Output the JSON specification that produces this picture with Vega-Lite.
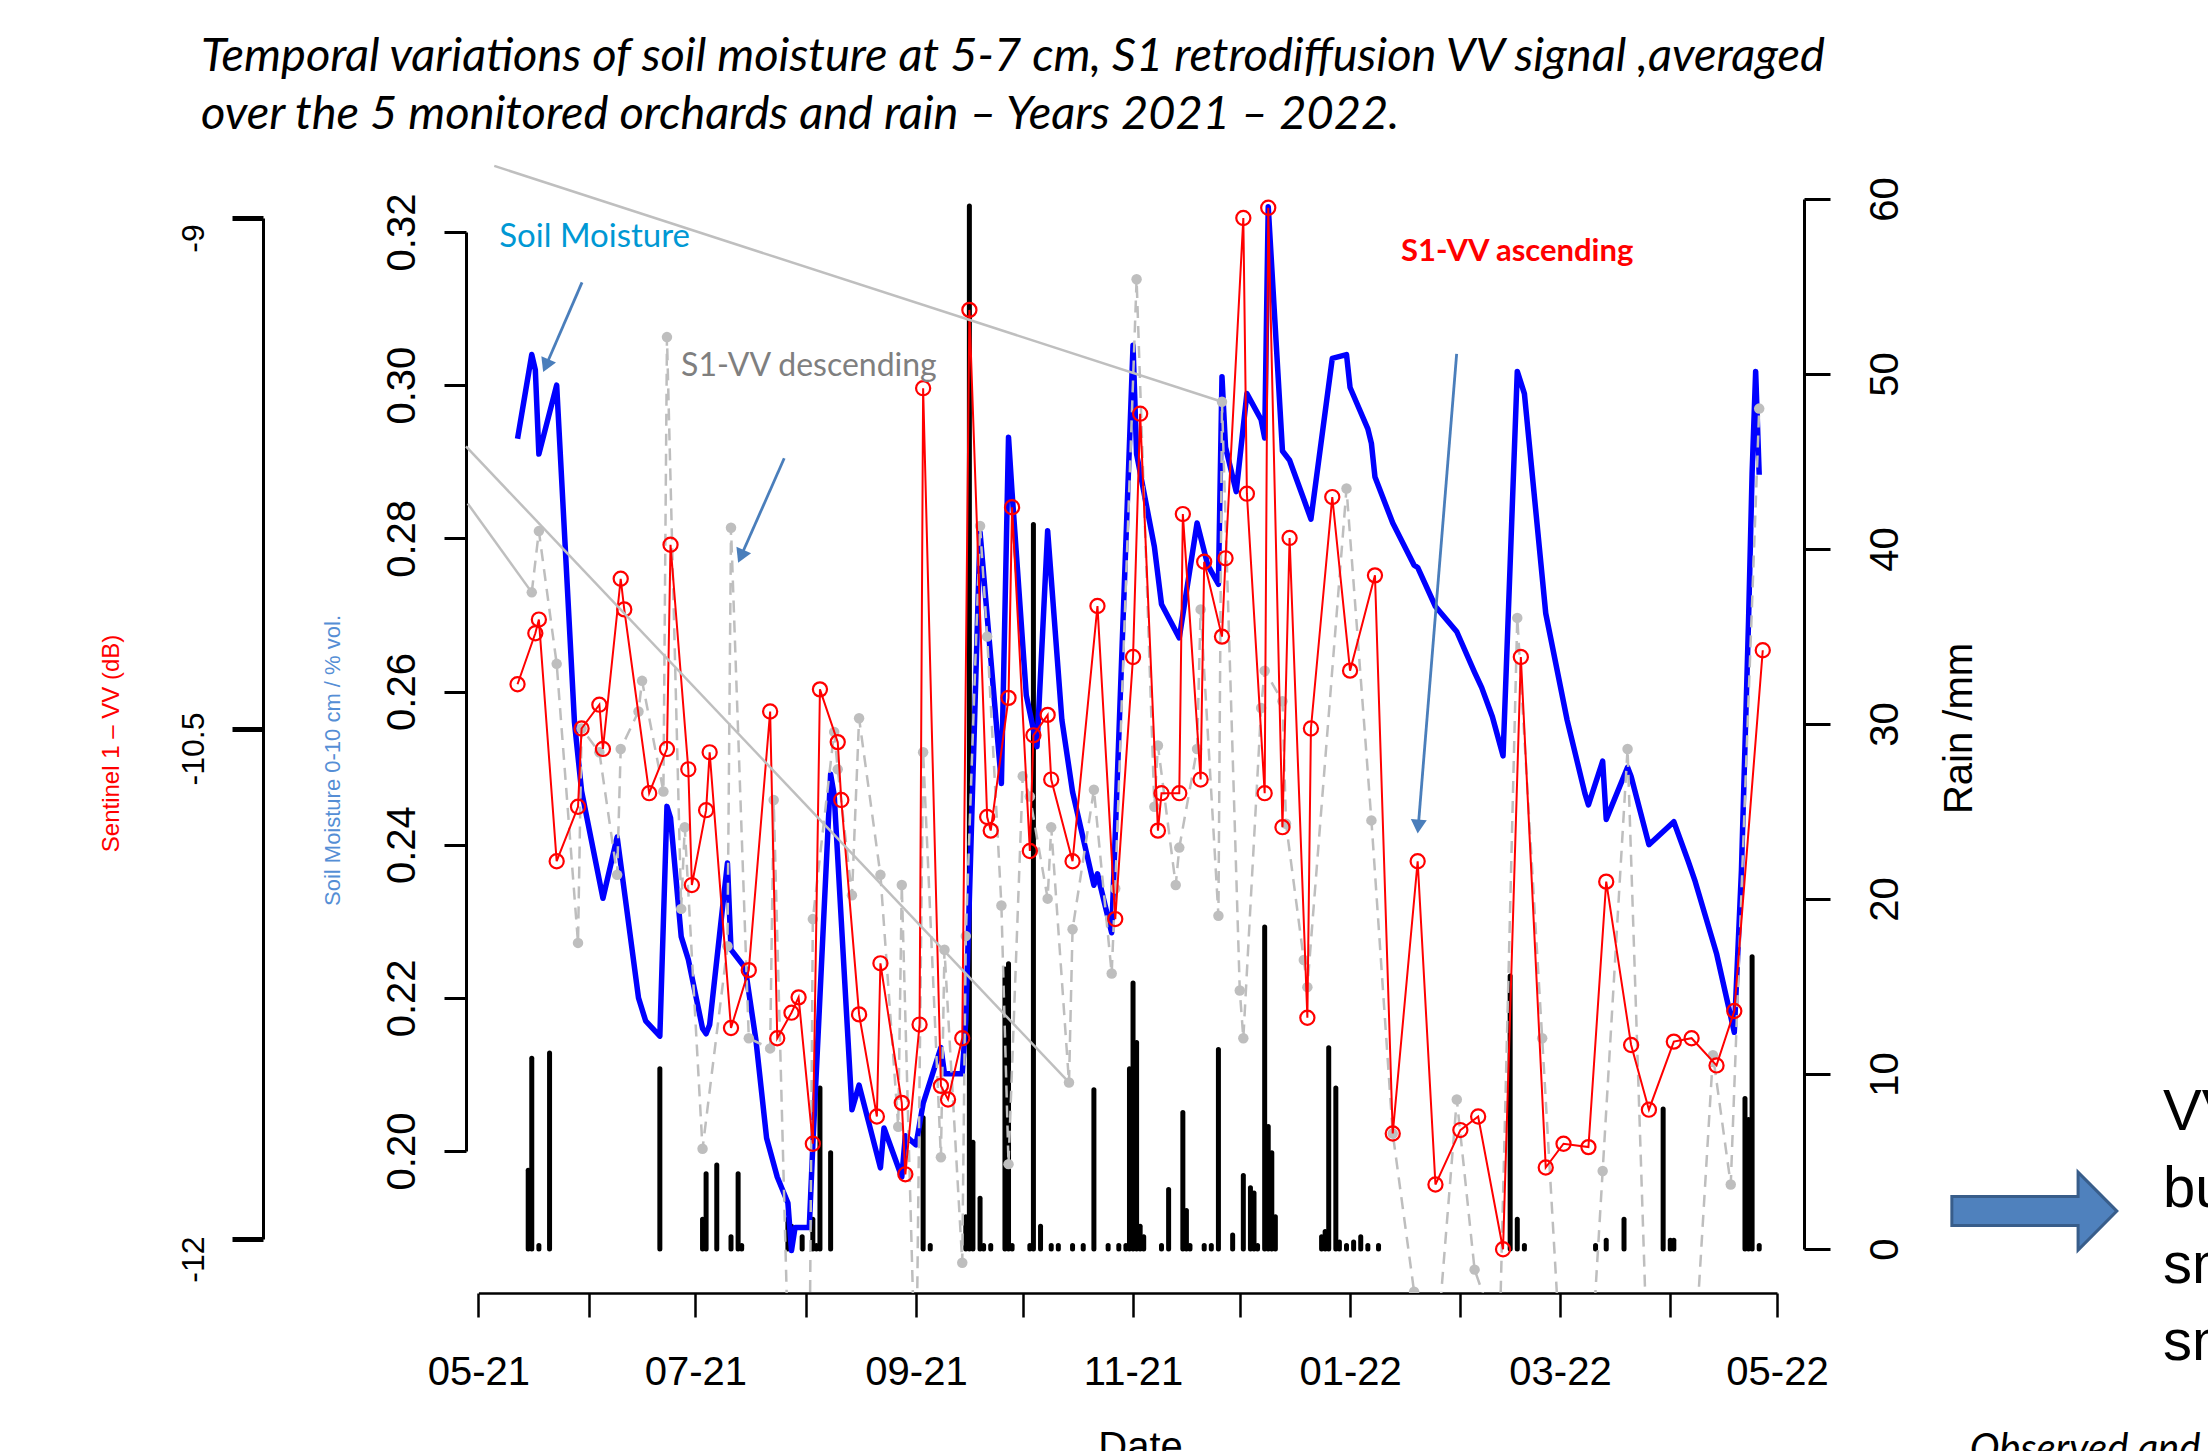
{
  "$schema": "https://vega.github.io/schema/vega-lite/v6.json",
  "autosize": "none",
  "width": 1338,
  "height": 1153,
  "padding": {"left": 466, "top": 140, "right": 404, "bottom": 158},
  "background": "white",
  "title": {
    "text": ["Temporal variations of soil moisture at 5-7 cm, S1 retrodiffusion VV signal ,averaged", "over  the 5 monitored orchards and rain \u2013 Years 2021 \u2013 2022."],
    "anchor": "start", "frame": "group", "font": "Lato", "fontStyle": "italic", "fontWeight": "normal",
    "fontSize": 47, "lineHeight": 58.5, "color": "black", "dx": -265, "dy": 36, "baseline": "alphabetic", "offset": 0
  },
  "datasets": {
    "rain": [
      {"date":"2021-05-15","rain":4.5},{"date":"2021-05-16","rain":10.9},{"date":"2021-05-18","rain":0.2},{"date":"2021-05-21","rain":11.2},
      {"date":"2021-06-21","rain":10.3},{"date":"2021-07-03","rain":1.7},{"date":"2021-07-04","rain":4.3},{"date":"2021-07-07","rain":4.8},
      {"date":"2021-07-11","rain":0.7},{"date":"2021-07-13","rain":4.3},{"date":"2021-07-14","rain":0.2},{"date":"2021-07-27","rain":1.7},
      {"date":"2021-07-28","rain":1.3},{"date":"2021-07-31","rain":0.7},{"date":"2021-08-03","rain":1.7},{"date":"2021-08-04","rain":0.2},
      {"date":"2021-08-05","rain":9.2},{"date":"2021-08-08","rain":5.5},{"date":"2021-09-03","rain":7.5},{"date":"2021-09-05","rain":0.2},
      {"date":"2021-09-15","rain":1.85},{"date":"2021-09-16","rain":59.6},{"date":"2021-09-17","rain":6.1},{"date":"2021-09-19","rain":2.9},
      {"date":"2021-09-20","rain":0.2},{"date":"2021-09-22","rain":0.2},{"date":"2021-09-26","rain":16.0},{"date":"2021-09-27","rain":16.3},
      {"date":"2021-09-28","rain":0.2},{"date":"2021-10-03","rain":0.2},{"date":"2021-10-04","rain":41.4},{"date":"2021-10-06","rain":1.3},
      {"date":"2021-10-09","rain":0.2},{"date":"2021-10-11","rain":0.2},{"date":"2021-10-15","rain":0.2},{"date":"2021-10-18","rain":0.2},
      {"date":"2021-10-21","rain":9.1},{"date":"2021-10-25","rain":0.2},{"date":"2021-10-28","rain":0.2},{"date":"2021-10-30","rain":0.2},
      {"date":"2021-10-31","rain":10.3},{"date":"2021-11-01","rain":15.2},{"date":"2021-11-02","rain":11.8},{"date":"2021-11-03","rain":1.3},
      {"date":"2021-11-04","rain":0.7},{"date":"2021-11-09","rain":0.2},{"date":"2021-11-11","rain":3.4},{"date":"2021-11-15","rain":7.8},
      {"date":"2021-11-16","rain":2.2},{"date":"2021-11-17","rain":0.2},{"date":"2021-11-21","rain":0.2},{"date":"2021-11-23","rain":0.2},
      {"date":"2021-11-25","rain":11.4},{"date":"2021-11-29","rain":0.8},{"date":"2021-12-02","rain":4.2},{"date":"2021-12-04","rain":3.5},
      {"date":"2021-12-05","rain":3.2},{"date":"2021-12-06","rain":0.2},{"date":"2021-12-08","rain":18.4},{"date":"2021-12-09","rain":7.0},
      {"date":"2021-12-10","rain":5.5},{"date":"2021-12-11","rain":1.85},{"date":"2021-12-24","rain":0.7},{"date":"2021-12-25","rain":1.0},
      {"date":"2021-12-26","rain":11.5},{"date":"2021-12-28","rain":9.2},{"date":"2021-12-29","rain":0.4},{"date":"2021-12-31","rain":0.2},
      {"date":"2022-01-02","rain":0.4},{"date":"2022-01-04","rain":0.7},{"date":"2022-01-06","rain":0.2},{"date":"2022-01-09","rain":0.2},
      {"date":"2022-02-15","rain":15.6},{"date":"2022-02-17","rain":1.7},{"date":"2022-02-19","rain":0.2},{"date":"2022-03-11","rain":0.2},
      {"date":"2022-03-14","rain":0.5},{"date":"2022-03-19","rain":1.7},{"date":"2022-03-30","rain":8.0},{"date":"2022-04-01","rain":0.5},
      {"date":"2022-04-02","rain":0.5},{"date":"2022-04-22","rain":8.6},{"date":"2022-04-23","rain":7.4},{"date":"2022-04-24","rain":16.7},
      {"date":"2022-04-26","rain":0.2}
    ],
    "sm": [
      {"date":"2021-05-12","sm":0.293},{"date":"2021-05-16","sm":0.304},{"date":"2021-05-17","sm":0.302},{"date":"2021-05-18","sm":0.291},
      {"date":"2021-05-23","sm":0.300},{"date":"2021-05-28","sm":0.256},{"date":"2021-05-30","sm":0.247},{"date":"2021-06-05","sm":0.233},
      {"date":"2021-06-09","sm":0.241},{"date":"2021-06-15","sm":0.220},{"date":"2021-06-17","sm":0.217},{"date":"2021-06-21","sm":0.215},
      {"date":"2021-06-23","sm":0.245},{"date":"2021-06-24","sm":0.2435},{"date":"2021-06-27","sm":0.228},{"date":"2021-06-29","sm":0.225},
      {"date":"2021-07-03","sm":0.216},{"date":"2021-07-04","sm":0.2153},{"date":"2021-07-05","sm":0.2165},{"date":"2021-07-10","sm":0.2376},
      {"date":"2021-07-11","sm":0.2263},{"date":"2021-07-15","sm":0.2239},{"date":"2021-07-18","sm":0.2145},{"date":"2021-07-21","sm":0.2017},
      {"date":"2021-07-24","sm":0.1966},{"date":"2021-07-27","sm":0.1932},{"date":"2021-07-28","sm":0.187},{"date":"2021-07-29","sm":0.190},
      {"date":"2021-08-02","sm":0.190},{"date":"2021-08-03","sm":0.2008},{"date":"2021-08-08","sm":0.2492},{"date":"2021-08-09","sm":0.2465},
      {"date":"2021-08-14","sm":0.2054},{"date":"2021-08-16","sm":0.2086},{"date":"2021-08-22","sm":0.1978},{"date":"2021-08-23","sm":0.203},
      {"date":"2021-08-28","sm":0.1966},{"date":"2021-08-29","sm":0.202},{"date":"2021-09-01","sm":0.2008},{"date":"2021-09-03","sm":0.2062},
      {"date":"2021-09-08","sm":0.2135},{"date":"2021-09-09","sm":0.2101},{"date":"2021-09-14","sm":0.2101},{"date":"2021-09-15","sm":0.217},
      {"date":"2021-09-19","sm":0.2808},{"date":"2021-09-25","sm":0.248},{"date":"2021-09-27","sm":0.2932},{"date":"2021-09-28","sm":0.286},
      {"date":"2021-10-02","sm":0.2595},{"date":"2021-10-05","sm":0.2528},{"date":"2021-10-08","sm":0.281},{"date":"2021-10-12","sm":0.2563},
      {"date":"2021-10-15","sm":0.2469},{"date":"2021-10-21","sm":0.2347},{"date":"2021-10-22","sm":0.2362},{"date":"2021-10-26","sm":0.2285},
      {"date":"2021-11-01","sm":0.3052},{"date":"2021-11-02","sm":0.291},{"date":"2021-11-07","sm":0.2789},{"date":"2021-11-09","sm":0.2714},
      {"date":"2021-11-14","sm":0.267},{"date":"2021-11-19","sm":0.282},{"date":"2021-11-22","sm":0.2765},{"date":"2021-11-25","sm":0.274},
      {"date":"2021-11-26","sm":0.3011},{"date":"2021-11-27","sm":0.2919},{"date":"2021-11-30","sm":0.2861},{"date":"2021-12-03","sm":0.2989},
      {"date":"2021-12-07","sm":0.2955},{"date":"2021-12-08","sm":0.2931},{"date":"2021-12-09","sm":0.3233},{"date":"2021-12-13","sm":0.2914},
      {"date":"2021-12-15","sm":0.2902},{"date":"2021-12-19","sm":0.2851},{"date":"2021-12-21","sm":0.2825},{"date":"2021-12-27","sm":0.3035},
      {"date":"2021-12-31","sm":0.304},{"date":"2022-01-01","sm":0.2997},{"date":"2022-01-06","sm":0.2943},{"date":"2022-01-07","sm":0.2924},
      {"date":"2022-01-08","sm":0.288},{"date":"2022-01-13","sm":0.282},{"date":"2022-01-19","sm":0.2765},{"date":"2022-01-20","sm":0.2762},
      {"date":"2022-01-25","sm":0.2711},{"date":"2022-01-31","sm":0.2678},{"date":"2022-02-05","sm":0.2625},{"date":"2022-02-07","sm":0.2605},
      {"date":"2022-02-10","sm":0.2567},{"date":"2022-02-13","sm":0.2516},{"date":"2022-02-17","sm":0.3018},{"date":"2022-02-19","sm":0.2989},
      {"date":"2022-02-25","sm":0.2702},{"date":"2022-03-03","sm":0.2563},{"date":"2022-03-08","sm":0.2467},{"date":"2022-03-09","sm":0.2452},
      {"date":"2022-03-13","sm":0.2509},{"date":"2022-03-14","sm":0.2433},{"date":"2022-03-20","sm":0.2501},{"date":"2022-03-21","sm":0.2489},
      {"date":"2022-03-26","sm":0.240},{"date":"2022-04-02","sm":0.243},{"date":"2022-04-06","sm":0.2379},{"date":"2022-04-08","sm":0.2352},
      {"date":"2022-04-14","sm":0.2258},{"date":"2022-04-19","sm":0.2155},{"date":"2022-04-21","sm":0.2366},{"date":"2022-04-23","sm":0.2692},
      {"date":"2022-04-24","sm":0.2885},{"date":"2022-04-25","sm":0.3018},{"date":"2022-04-26","sm":0.2883}
    ],
    "asc": [
      {"date":"2021-05-12","db":-10.37},{"date":"2021-05-17","db":-10.22},{"date":"2021-05-18","db":-10.18},{"date":"2021-05-23","db":-10.89},
      {"date":"2021-05-29","db":-10.73},{"date":"2021-05-30","db":-10.50},{"date":"2021-06-04","db":-10.43},{"date":"2021-06-05","db":-10.56},
      {"date":"2021-06-10","db":-10.06},{"date":"2021-06-11","db":-10.15},{"date":"2021-06-18","db":-10.69},{"date":"2021-06-23","db":-10.56},
      {"date":"2021-06-24","db":-9.96},{"date":"2021-06-29","db":-10.62},{"date":"2021-06-30","db":-10.96},{"date":"2021-07-04","db":-10.74},
      {"date":"2021-07-05","db":-10.57},{"date":"2021-07-11","db":-11.38},{"date":"2021-07-16","db":-11.21},{"date":"2021-07-22","db":-10.45},
      {"date":"2021-07-24","db":-11.41},{"date":"2021-07-28","db":-11.335},{"date":"2021-07-30","db":-11.29},{"date":"2021-08-03","db":-11.72},
      {"date":"2021-08-05","db":-10.385},{"date":"2021-08-10","db":-10.54},{"date":"2021-08-11","db":-10.71},{"date":"2021-08-16","db":-11.34},
      {"date":"2021-08-21","db":-11.64},{"date":"2021-08-22","db":-11.19},{"date":"2021-08-28","db":-11.60},{"date":"2021-08-29","db":-11.81},
      {"date":"2021-09-02","db":-11.37},{"date":"2021-09-03","db":-9.50},{"date":"2021-09-08","db":-11.55},{"date":"2021-09-10","db":-11.59},
      {"date":"2021-09-14","db":-11.41},{"date":"2021-09-16","db":-9.27},{"date":"2021-09-21","db":-10.76},{"date":"2021-09-22","db":-10.80},
      {"date":"2021-09-27","db":-10.41},{"date":"2021-09-28","db":-9.85},{"date":"2021-10-03","db":-10.86},{"date":"2021-10-04","db":-10.52},
      {"date":"2021-10-08","db":-10.46},{"date":"2021-10-09","db":-10.65},{"date":"2021-10-15","db":-10.89},{"date":"2021-10-22","db":-10.14},
      {"date":"2021-10-27","db":-11.06},{"date":"2021-11-01","db":-10.29},{"date":"2021-11-03","db":-9.575},{"date":"2021-11-08","db":-10.80},
      {"date":"2021-11-09","db":-10.69},{"date":"2021-11-14","db":-10.69},{"date":"2021-11-15","db":-9.87},{"date":"2021-11-20","db":-10.65},
      {"date":"2021-11-21","db":-10.01},{"date":"2021-11-26","db":-10.23},{"date":"2021-11-27","db":-10.00},{"date":"2021-12-02","db":-9.00},
      {"date":"2021-12-03","db":-9.81},{"date":"2021-12-08","db":-10.69},{"date":"2021-12-09","db":-8.97},{"date":"2021-12-13","db":-10.79},
      {"date":"2021-12-15","db":-9.94},{"date":"2021-12-20","db":-11.35},{"date":"2021-12-21","db":-10.50},{"date":"2021-12-27","db":-9.82},
      {"date":"2022-01-01","db":-10.33},{"date":"2022-01-08","db":-10.05},{"date":"2022-01-13","db":-11.69},{"date":"2022-01-20","db":-10.89},
      {"date":"2022-01-25","db":-11.84},{"date":"2022-02-01","db":-11.68},{"date":"2022-02-06","db":-11.64},{"date":"2022-02-13","db":-12.03},
      {"date":"2022-02-18","db":-10.29},{"date":"2022-02-25","db":-11.79},{"date":"2022-03-02","db":-11.72},{"date":"2022-03-09","db":-11.73},
      {"date":"2022-03-14","db":-10.95},{"date":"2022-03-21","db":-11.43},{"date":"2022-03-26","db":-11.62},{"date":"2022-04-02","db":-11.42},
      {"date":"2022-04-07","db":-11.41},{"date":"2022-04-14","db":-11.49},{"date":"2022-04-19","db":-11.33},{"date":"2022-04-27","db":-10.27}
    ],
    "desc": [
      {"date":"2021-05-16","db":-10.10},{"date":"2021-05-18","db":-9.92},{"date":"2021-05-23","db":-10.31},{"date":"2021-05-29","db":-11.13},
      {"date":"2021-05-30","db":-10.50},{"date":"2021-06-04","db":-10.57},{"date":"2021-06-09","db":-10.93},{"date":"2021-06-10","db":-10.56},
      {"date":"2021-06-15","db":-10.45},{"date":"2021-06-16","db":-10.36},{"date":"2021-06-22","db":-10.685},{"date":"2021-06-23","db":-9.35},
      {"date":"2021-06-27","db":-11.03},{"date":"2021-06-28","db":-10.79},{"date":"2021-07-03","db":-11.735},{"date":"2021-07-10","db":-11.14},
      {"date":"2021-07-11","db":-9.91},{"date":"2021-07-16","db":-11.41},{"date":"2021-07-22","db":-11.44},{"date":"2021-07-23","db":-10.71},
      {"date":"2021-07-27","db":-12.3},{"date":"2021-08-02","db":-12.5},{"date":"2021-08-03","db":-11.06},{"date":"2021-08-09","db":-10.51},
      {"date":"2021-08-10","db":-10.62},{"date":"2021-08-14","db":-10.99},{"date":"2021-08-16","db":-10.47},{"date":"2021-08-22","db":-10.93},
      {"date":"2021-08-27","db":-11.67},{"date":"2021-08-28","db":-10.96},{"date":"2021-09-01","db":-12.5},{"date":"2021-09-03","db":-10.57},
      {"date":"2021-09-08","db":-11.76},{"date":"2021-09-09","db":-11.15},{"date":"2021-09-14","db":-12.07},{"date":"2021-09-15","db":-11.11},
      {"date":"2021-09-19","db":-9.905},{"date":"2021-09-21","db":-10.23},{"date":"2021-09-25","db":-11.02},{"date":"2021-09-27","db":-11.78},
      {"date":"2021-10-01","db":-10.64},{"date":"2021-10-03","db":-10.70},{"date":"2021-10-08","db":-11.00},{"date":"2021-10-09","db":-10.79},
      {"date":"2021-10-14","db":-11.54},{"date":"2021-10-15","db":-11.09},{"date":"2021-10-21","db":-10.68},{"date":"2021-10-26","db":-11.22},
      {"date":"2021-10-27","db":-10.97},{"date":"2021-11-02","db":-9.18},{"date":"2021-11-07","db":-10.73},{"date":"2021-11-08","db":-10.55},
      {"date":"2021-11-13","db":-10.96},{"date":"2021-11-14","db":-10.85},{"date":"2021-11-19","db":-10.56},{"date":"2021-11-20","db":-10.15},
      {"date":"2021-11-25","db":-11.05},{"date":"2021-11-26","db":-9.54},{"date":"2021-12-01","db":-11.27},{"date":"2021-12-02","db":-11.41},
      {"date":"2021-12-07","db":-10.44},{"date":"2021-12-08","db":-10.33},{"date":"2021-12-13","db":-10.42},{"date":"2021-12-14","db":-10.78},
      {"date":"2021-12-19","db":-11.18},{"date":"2021-12-20","db":-11.26},{"date":"2021-12-31","db":-9.795},{"date":"2022-01-07","db":-10.77},
      {"date":"2022-01-13","db":-11.69},{"date":"2022-01-19","db":-12.155},{"date":"2022-01-24","db":-12.5},{"date":"2022-01-31","db":-11.59},
      {"date":"2022-02-05","db":-12.09},{"date":"2022-02-12","db":-12.3},{"date":"2022-02-17","db":-10.175},{"date":"2022-02-24","db":-11.41},
      {"date":"2022-03-02","db":-12.5},{"date":"2022-03-09","db":-12.5},{"date":"2022-03-13","db":-11.80},{"date":"2022-03-20","db":-10.56},
      {"date":"2022-03-26","db":-12.5},{"date":"2022-04-07","db":-12.5},{"date":"2022-04-13","db":-11.46},{"date":"2022-04-18","db":-11.84},
      {"date":"2022-04-26","db":-9.56}
    ],
    "connectors": [
      {"date":"2021-05-05T11:00:00Z","db":-8.847,"date2":"2021-11-26T00:00:00Z","db2":-9.54},
      {"date":"2021-04-27T12:00:00Z","db":-9.671,"date2":"2021-10-14T00:00:00Z","db2":-11.54},
      {"date":"2021-04-28T00:00:00Z","db":-9.839,"date2":"2021-05-16T00:00:00Z","db2":-10.10}
    ],
    "arrows": [
      {"date":"2021-05-30T03:00:00Z","db":-9.189,"date2":"2021-05-19T23:30:00Z","db2":-9.434},
      {"date":"2021-07-25T23:00:00Z","db":-9.706,"date2":"2021-07-13T19:00:00Z","db2":-9.994},
      {"date":"2022-01-30T23:00:00Z","db":-9.399,"date2":"2022-01-20T04:00:00Z","db2":-10.788}
    ],
    "notes": [
      {"date":"2021-05-06T21:00:00Z","db":-9.085,"text":"Soil Moisture","kind":"sm"},
      {"date":"2021-06-26T23:00:00Z","db":-9.463,"text":"S1-VV descending","kind":"desc"},
      {"date":"2022-01-15T07:00:00Z","db":-9.127,"text":"S1-VV ascending","kind":"asc"},
      {"date":"2022-08-17T12:00:00Z","db":-11.680,"text":"VV","kind":"side"},
      {"date":"2022-08-17T12:00:00Z","db":-11.906,"text":"bu","kind":"side"},
      {"date":"2022-08-17T12:00:00Z","db":-12.129,"text":"sm","kind":"side"},
      {"date":"2022-08-17T12:00:00Z","db":-12.356,"text":"sm","kind":"side"},
      {"date":"2022-06-24T05:00:00Z","db":-12.655,"text":"Observed and","kind":"obs"}
    ]
  },
  "encoding": {
    "x": {
      "field": "date", "type": "temporal",
      "scale": {"type": "utc", "domain": [{"year":2021,"month":5,"date":1,"utc":true},{"year":2022,"month":5,"date":1,"utc":true}], "range": [12.4, 1311], "nice": false},
      "axis": {
        "title": "Date",
        "values": [
          {"year":2021,"month":5,"date":1,"utc":true},{"year":2021,"month":6,"date":1,"utc":true},{"year":2021,"month":7,"date":1,"utc":true},
          {"year":2021,"month":8,"date":1,"utc":true},{"year":2021,"month":9,"date":1,"utc":true},{"year":2021,"month":10,"date":1,"utc":true},
          {"year":2021,"month":11,"date":1,"utc":true},{"year":2021,"month":12,"date":1,"utc":true},{"year":2022,"month":1,"date":1,"utc":true},
          {"year":2022,"month":2,"date":1,"utc":true},{"year":2022,"month":3,"date":1,"utc":true},{"year":2022,"month":4,"date":1,"utc":true},
          {"year":2022,"month":5,"date":1,"utc":true}
        ],
        "labelExpr": "utcmonth(datum.value) % 2 == 0 ? utcFormat(datum.value, '%m-%y') : ''",
        "tickSize": 24, "tickWidth": 2.5, "domainWidth": 2.5,
        "labelFontSize": 40, "labelFont": "Liberation Sans", "labelPadding": 35, "labelBaseline": "top", "labelAlign": "center",
        "labelFlush": false, "labelOverlap": false,
        "titleFontSize": 40, "titleFont": "Liberation Sans", "titleFontWeight": "normal",
        "titleBaseline": "alphabetic", "titleAlign": "center", "titleX": 674, "titleY": 166
      }
    }
  },
  "layer": [
    {
      "data": {"name": "rain"},
      "mark": {"type": "rule", "color": "black", "strokeWidth": 5, "strokeCap": "round"},
      "encoding": {
        "y": {"field": "rain", "type": "quantitative",
          "scale": {"domain": [0, 60], "range": [1109, 59], "nice": false, "zero": false},
          "axis": {"orient": "right", "values": [0,10,20,30,40,50,60], "tickSize": 26, "tickWidth": 3, "domainWidth": 3,
            "labelFontSize": 40, "labelFont": "Liberation Sans", "labelAngle": 270, "labelAlign": "center", "labelBaseline": "alphabetic",
            "labelPadding": 67, "labelFlush": false, "labelOverlap": false,
            "title": "Rain /mm", "titleFontSize": 40, "titleFont": "Liberation Sans", "titleFontWeight": "normal",
            "titleAngle": 270, "titleAlign": "center", "titleBaseline": "alphabetic", "titleX": 167, "titleY": 588}},
        "y2": {"datum": 0}
      }
    },
    {
      "data": {"name": "sm"},
      "mark": {"type": "line", "color": "#0000FF", "strokeWidth": 5.5, "strokeJoin": "round"},
      "encoding": {
        "y": {"field": "sm", "type": "quantitative",
          "scale": {"domain": [0.2, 0.32], "range": [1011, 92], "nice": false, "zero": false},
          "axis": {"orient": "left", "values": [0.2,0.22,0.24,0.26,0.28,0.3,0.32], "format": ".2f", "tickSize": 22, "tickWidth": 3, "domainWidth": 3,
            "labelFontSize": 40, "labelFont": "Liberation Sans", "labelAngle": 270, "labelAlign": "center", "labelBaseline": "alphabetic",
            "labelPadding": 30, "labelFlush": false, "labelOverlap": false,
            "title": "Soil Moisture 0-10 cm / % vol.", "titleColor": "#558ED5", "titleFontSize": 22, "titleFont": "Liberation Sans",
            "titleFontWeight": "normal", "titleAngle": 270, "titleAlign": "center", "titleBaseline": "alphabetic", "titleX": -127, "titleY": 620}}
      }
    },
    {
      "data": {"name": "desc"},
      "mark": {"type": "line", "color": "#BEBEBE", "strokeWidth": 2.5, "strokeDash": [12, 8], "clip": true},
      "encoding": {
        "y": {"field": "db", "type": "quantitative", "scale": {"domain": [-12, -9], "range": [1099, 78], "nice": false, "zero": false}, "axis": null}
      }
    },
    {
      "data": {"name": "desc"},
      "mark": {"type": "point", "shape": "circle", "filled": true, "color": "#BEBEBE", "opacity": 1, "size": 110, "clip": true},
      "encoding": {
        "y": {"field": "db", "type": "quantitative", "scale": {"domain": [-12, -9], "range": [1099, 78], "nice": false, "zero": false}, "axis": null}
      }
    },
    {
      "data": {"name": "asc"},
      "mark": {"type": "line", "color": "#FF0000", "strokeWidth": 2, "clip": true},
      "encoding": {
        "y": {"field": "db", "type": "quantitative", "scale": {"domain": [-12, -9], "range": [1099, 78], "nice": false, "zero": false},
          "axis": {"orient": "left", "offset": 203, "values": [-12, -10.5, -9], "labelExpr": "'-' + format(abs(datum.value), '~g')",
            "tickSize": 31, "tickWidth": 5, "domainWidth": 3,
            "labelFontSize": 32, "labelFont": "Liberation Sans", "labelAngle": 270, "labelAlign": "center", "labelBaseline": "alphabetic",
            "labelPadding": 29, "labelOffset": 20, "labelFlush": false, "labelOverlap": false,
            "title": "Sentinel 1 \u2013 VV (dB)", "titleColor": "#FF0000", "titleFontSize": 24, "titleFont": "Liberation Sans",
            "titleFontWeight": "normal", "titleAngle": 270, "titleAlign": "center", "titleBaseline": "alphabetic", "titleX": -145, "titleY": 603}}
      }
    },
    {
      "data": {"name": "asc"},
      "mark": {"type": "point", "shape": "circle", "filled": false, "color": "#FF0000", "strokeWidth": 2.2, "opacity": 1, "size": 200, "clip": true},
      "encoding": {
        "y": {"field": "db", "type": "quantitative", "scale": {"domain": [-12, -9], "range": [1099, 78], "nice": false, "zero": false}, "axis": null}
      }
    },
    {
      "data": {"name": "connectors"},
      "mark": {"type": "rule", "color": "#BFBFBF", "strokeWidth": 2.5},
      "encoding": {
        "x2": {"field": "date2"},
        "y": {"field": "db", "type": "quantitative", "scale": {"domain": [-12, -9], "range": [1099, 78], "nice": false, "zero": false}, "axis": null},
        "y2": {"field": "db2"}
      }
    },
    {
      "data": {"name": "arrows"},
      "mark": {"type": "rule", "color": "#4A7EBB", "strokeWidth": 2.8},
      "encoding": {
        "x2": {"field": "date2"},
        "y": {"field": "db", "type": "quantitative", "scale": {"domain": [-12, -9], "range": [1099, 78], "nice": false, "zero": false}, "axis": null},
        "y2": {"field": "db2"}
      }
    },
    {
      "data": {"name": "arrows"},
      "transform": [{"filter": "datum.db2 > -9.5"}],
      "mark": {"type": "point", "shape": "triangle-down", "filled": true, "color": "#4A7EBB", "opacity": 1, "size": 256, "angle": 23.5},
      "encoding": {
        "x": {"field": "date2", "type": "temporal"},
        "y": {"field": "db2", "type": "quantitative", "scale": {"domain": [-12, -9], "range": [1099, 78], "nice": false, "zero": false}, "axis": null}
      }
    },
    {
      "data": {"name": "arrows"},
      "transform": [{"filter": "datum.db2 < -9.5 && datum.db2 > -10.5"}],
      "mark": {"type": "point", "shape": "triangle-down", "filled": true, "color": "#4A7EBB", "opacity": 1, "size": 256, "angle": 23.9},
      "encoding": {
        "x": {"field": "date2", "type": "temporal"},
        "y": {"field": "db2", "type": "quantitative", "scale": {"domain": [-12, -9], "range": [1099, 78], "nice": false, "zero": false}, "axis": null}
      }
    },
    {
      "data": {"name": "arrows"},
      "transform": [{"filter": "datum.db2 < -10.5"}],
      "mark": {"type": "point", "shape": "triangle-down", "filled": true, "color": "#4A7EBB", "opacity": 1, "size": 256, "angle": 4.6},
      "encoding": {
        "x": {"field": "date2", "type": "temporal"},
        "y": {"field": "db2", "type": "quantitative", "scale": {"domain": [-12, -9], "range": [1099, 78], "nice": false, "zero": false}, "axis": null}
      }
    },
    {
      "data": {"name": "notes"},
      "transform": [{"filter": "datum.kind == 'sm'"}],
      "mark": {"type": "text", "align": "left", "baseline": "alphabetic", "font": "Lato", "fontSize": 33, "color": "#0098D4"},
      "encoding": {
        "y": {"field": "db", "type": "quantitative", "scale": {"domain": [-12, -9], "range": [1099, 78], "nice": false, "zero": false}, "axis": null},
        "text": {"field": "text"}
      }
    },
    {
      "data": {"name": "notes"},
      "transform": [{"filter": "datum.kind == 'desc'"}],
      "mark": {"type": "text", "align": "left", "baseline": "alphabetic", "font": "Lato", "fontSize": 32, "color": "#7F7F7F"},
      "encoding": {
        "y": {"field": "db", "type": "quantitative", "scale": {"domain": [-12, -9], "range": [1099, 78], "nice": false, "zero": false}, "axis": null},
        "text": {"field": "text"}
      }
    },
    {
      "data": {"name": "notes"},
      "transform": [{"filter": "datum.kind == 'asc'"}],
      "mark": {"type": "text", "align": "left", "baseline": "alphabetic", "font": "Lato", "fontSize": 31, "fontWeight": "bold", "color": "#FF0000"},
      "encoding": {
        "y": {"field": "db", "type": "quantitative", "scale": {"domain": [-12, -9], "range": [1099, 78], "nice": false, "zero": false}, "axis": null},
        "text": {"field": "text"}
      }
    },
    {
      "data": {"name": "notes"},
      "transform": [{"filter": "datum.kind == 'side'"}],
      "mark": {"type": "text", "align": "left", "baseline": "alphabetic", "font": "Liberation Sans", "fontSize": 58, "color": "#000000"},
      "encoding": {
        "y": {"field": "db", "type": "quantitative", "scale": {"domain": [-12, -9], "range": [1099, 78], "nice": false, "zero": false}, "axis": null},
        "text": {"field": "text"}
      }
    },
    {
      "data": {"name": "notes"},
      "transform": [{"filter": "datum.kind == 'obs'"}],
      "mark": {"type": "text", "align": "left", "baseline": "alphabetic", "font": "Lato", "fontStyle": "italic", "fontSize": 40, "color": "#000000"},
      "encoding": {
        "y": {"field": "db", "type": "quantitative", "scale": {"domain": [-12, -9], "range": [1099, 78], "nice": false, "zero": false}, "axis": null},
        "text": {"field": "text"}
      }
    },
    {
      "data": {"values": [{"date": "2022-07-12T08:00:00Z", "db": -11.918}]},
      "mark": {"type": "point", "shape": "M -1 -0.176 L 0.53 -0.176 L 0.53 -0.473 L 1 0 L 0.53 0.473 L 0.53 0.176 L -1 0.176 Z",
        "filled": true, "fill": "#4F81BD", "stroke": "#385D8A", "strokeWidth": 3, "opacity": 1, "size": 27225},
      "encoding": {
        "y": {"field": "db", "type": "quantitative", "scale": {"domain": [-12, -9], "range": [1099, 78], "nice": false, "zero": false}, "axis": null}
      }
    }
  ],
  "resolve": {"scale": {"y": "independent"}, "axis": {"y": "independent"}},
  "config": {
    "view": {"stroke": null},
    "axis": {"grid": false, "domainColor": "#000000", "tickColor": "#000000", "labelColor": "#000000", "titleColor": "#000000"}
  }
}
